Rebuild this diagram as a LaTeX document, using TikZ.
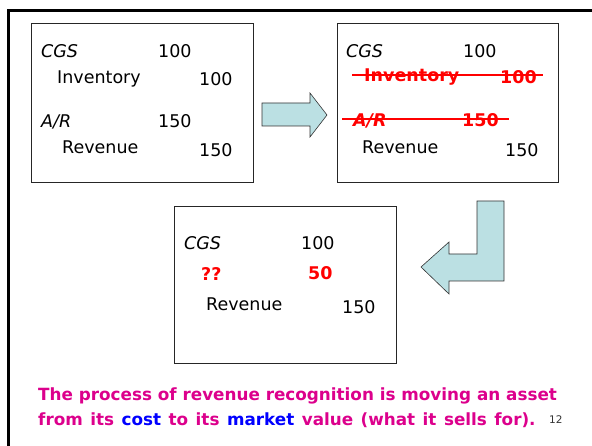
\documentclass[tikz,border=0pt]{standalone}
\usepackage{fontspec}
\setmainfont{DejaVu Sans}
\definecolor{arrowfill}{RGB}{187,224,227}
\definecolor{notepink}{RGB}{220,0,140}
\tikzset{
  entry/.style = {anchor=base west, inner sep=0, font=\fontsize{17.5}{20}\selectfont},
  gone/.style = {entry, text=red, font=\fontsize{17.5}{20}\selectfont\bfseries},
  strike/.style = {red, line width=1.5},
  jbox/.style = {draw=black!85, line width=0.8},
  bigarrow/.style = {draw=black!80, fill=arrowfill, line width=0.6},
  note/.style = {anchor=base west, inner sep=0, text=notepink, font=\fontsize{16.8}{20}\selectfont\bfseries}
}

\begin{document}
\begin{tikzpicture}[x=1pt, y=-1pt]
  \useasboundingbox (0, 0) rectangle (592, 446);

  % slide frame
  \draw [line width=2.6] (8.7, 446) -- (8.7, 10.5) -- (592, 10.5);

  % entry before the sale
  \draw [jbox] (31, 23) rectangle (253, 182);
  \node [entry] (cgsA) at (41, 58) {\itshape CGS};
  \node [entry] (cgsAamt) at (158, 58) {100};
  \node [entry] (invA) at (57, 84) {Inventory};
  \node [entry] (invAamt) at (199, 86) {100};
  \node [entry] (arA) at (41, 128) {\itshape A/R};
  \node [entry] (arAamt) at (158, 128) {150};
  \node [entry] (revA) at (62, 154) {Revenue};
  \node [entry] (revAamt) at (199, 157) {150};

  \draw [bigarrow] (262, 103) -- (310, 103) -- (310, 93) -- (327, 115)
    -- (310, 137) -- (310, 126) -- (262, 126) -- cycle;

  % same entry, asset and receivable struck out
  \draw [jbox] (337, 23) rectangle (558, 182);
  \node [entry] (cgsB) at (346, 58) {\itshape CGS};
  \node [entry] (cgsBamt) at (463, 58) {100};
  \node [gone] (invB) at (364, 82) {Inventory};
  \node [gone] (invBamt) at (500, 84) {100};
  \node [gone] (arB) at (353, 127) {\itshape A/R};
  \node [gone] (arBamt) at (462, 127) {150};
  \node [entry] (revB) at (362, 154) {Revenue};
  \node [entry] (revBamt) at (505, 157) {150};
  \draw [strike] (352, 75) -- (543, 75);
  \draw [strike] (342, 119) -- (509, 119);

  \draw [bigarrow] (477, 201) -- (504, 201) -- (504, 281) -- (449, 281)
    -- (449, 294) -- (421, 267) -- (449, 242) -- (449, 254) -- (477, 254) -- cycle;

  % net result
  \draw [jbox] (174, 206) rectangle (396, 363);
  \node [entry] (cgsC) at (184, 250) {\itshape CGS};
  \node [entry] (cgsCamt) at (301, 250) {100};
  \node [gone] (gapC) at (201, 281) {??};
  \node [gone] (gapCamt) at (308, 280) {50};
  \node [entry] (revC) at (206, 311) {Revenue};
  \node [entry] (revCamt) at (342, 314) {150};

  \node [note] (lineA) at (38, 401) {The process of revenue recognition is moving an asset};
  \node [note] (lineB) at (38, 425)
    {\spaceskip=7.5pt plus 1pt\relax from its \textcolor{blue}{cost} to its \textcolor{blue}{market} value (what it sells for).};
  \node [anchor=base west, inner sep=0, font=\fontsize{10.5}{12}\selectfont, text=black!80] (pageno) at (549, 424) {12};
\end{tikzpicture}
\end{document}
